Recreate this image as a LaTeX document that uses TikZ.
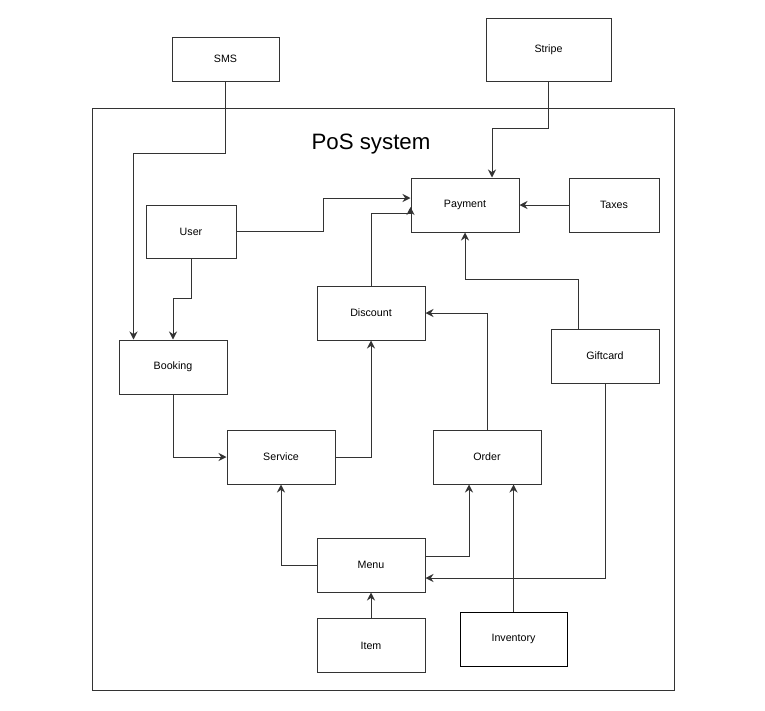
\documentclass[tikz,border=0pt]{standalone}
\usepackage{fontspec}
\setmainfont{Liberation Sans}
\usetikzlibrary{arrows.meta,positioning}
\definecolor{boxline}{HTML}{333333}

\begin{document}
\begin{tikzpicture}[
  x=0.75pt,y=-0.75pt,
  block/.style={draw=boxline,line width=0.75pt,inner sep=0,
    minimum width=81pt,minimum height=40.5pt,
    font=\fontsize{8}{10}\selectfont},
  narrow/.style={block,minimum width=67.5pt},
  link/.style={draw=boxline,line width=0.75pt,-{Stealth[length=6pt,width=6pt]}}
]
\useasboundingbox (0,0) rectangle (765,711);

% system frame and title
\node (system) [draw=boxline,line width=0.75pt,inner sep=0,
  minimum width=436.5pt,minimum height=436.5pt] at (383,399) {};
\node (title) [font=\fontsize{16.7}{20}\selectfont] at (371,144.5) {PoS system};

% outside services
\node (SMS) [block,minimum width=80.25pt,minimum height=33pt] at (225.5,59) {SMS};
\node (Stripe) [block,minimum width=93.75pt,minimum height=47.25pt] at (548.5,49.5) {Stripe};

% modules
\node (Payment) [block] at (465,205) {Payment};
\node (Taxes) [narrow] at (614,205) {Taxes};
\node (User) [narrow,minimum height=39.75pt] at (191,231.5) {User};
\node (Discount) [block] at (371,313) {Discount};
\node (Booking) [block] at (173,367) {Booking};
\node (Giftcard) [block] at (605,356) {Giftcard};
\node (Service) [block] at (281,457) {Service};
\node (Order) [block] at (487,457) {Order};
\node (Menu) [block] at (371,565) {Menu};
\node (Item) [block] at (371,645.5) {Item};
\node (Inventory) [block,draw=black,minimum width=80.25pt] at (513.5,639) {Inventory};

% connectors
\draw[link] (SMS.south) -- ++(0,72) -| ([xshift=11.25pt]Booking.north west);
\draw[link] (Stripe.south) -- ++(0,47) -| ([xshift=20.25pt]Payment.north);
\draw[link] (User.east) -- ++(87,0) |- ([yshift=5.25pt]Payment.west);
\draw[link] (Discount.north) |- ([yshift=-6pt]Payment.west) -- ([yshift=-1.5pt]Payment.west);
\draw[link] (User.south) -- ++(0,40) -| (Booking.north);
\draw[link] (Taxes.west) -- (Payment.east);
\draw[link] ([xshift=-20.25pt]Giftcard.north) -- ++(0,-49) -| (Payment.south);
\draw[link] (Booking.south) |- (Service.west);
\draw[link] (Service.east) -| (Discount.south);
\draw[link] (Order.north) |- (Discount.east);
\draw[link] (Menu.west) -| (Service.south);
\draw[link] ([yshift=6.75pt]Menu.east) -| ([xshift=-13.5pt]Order.south);
\draw[link] (Giftcard.south) |- ([yshift=-9.75pt]Menu.east);
\draw[link] (Item.north) -- (Menu.south);
\draw[link] (Inventory.north) -- (Inventory.north |- Order.south);

\end{tikzpicture}
\end{document}
